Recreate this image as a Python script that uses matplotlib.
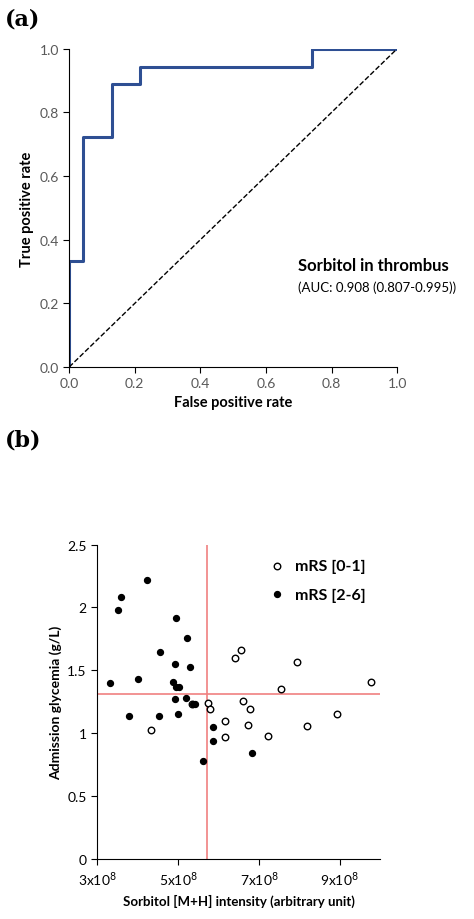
import matplotlib
matplotlib.use("Agg")
import matplotlib.pyplot as plt
import numpy as np

plt.rcParams['font.family'] = ['Lato', 'DejaVu Sans']

# ROC
roc_fpr = [0.0, 0.0, 0.043, 0.043, 0.13, 0.13, 0.217, 0.217, 0.739, 0.739, 1.0]
roc_tpr = [0.0, 0.333, 0.333, 0.722, 0.722, 0.889, 0.889, 0.944, 0.944, 1.0, 1.0]

# Scatter (x in units of 1e8)
low_x = [6.55, 6.42, 7.94, 9.77, 7.54, 6.61, 6.77, 5.75, 5.79, 5.35, 6.15, 6.73, 8.94, 8.19, 4.34, 6.15, 7.23]
low_y = [1.66, 1.60, 1.57, 1.41, 1.35, 1.26, 1.19, 1.24, 1.19, 1.23, 1.10, 1.07, 1.15, 1.06, 1.03, 0.97, 0.98]
high_x = [4.23, 3.58, 3.52, 4.95, 5.23, 4.56, 4.92, 5.30, 3.31, 4.00, 4.88, 4.96, 5.02, 4.93, 5.19,
          5.37, 5.43, 3.78, 4.53, 4.99, 5.87, 5.86, 6.82, 5.63]
high_y = [2.22, 2.08, 1.98, 1.92, 1.76, 1.65, 1.55, 1.53, 1.40, 1.43, 1.41, 1.37, 1.37, 1.27, 1.28,
          1.23, 1.23, 1.14, 1.14, 1.15, 1.05, 0.94, 0.84, 0.78]
cut_x = 5.71
cut_y = 1.31

fig = plt.figure(figsize=(4.74, 9.20), dpi=100)

ax1 = fig.add_axes([0.146, 0.600, 0.692, 0.346])
ax1.step(roc_fpr, roc_tpr, where='post', color='#2e4f93', lw=2.2)
ax1.plot([0, 1], [0, 1], ls='--', color='black', lw=1)
ax1.set_xlim(0, 1); ax1.set_ylim(0, 1)
ax1.set_xticks(np.arange(0, 1.01, 0.2)); ax1.set_yticks(np.arange(0, 1.01, 0.2))
ax1.xaxis.set_major_formatter(matplotlib.ticker.FormatStrFormatter('%.1f'))
ax1.yaxis.set_major_formatter(matplotlib.ticker.FormatStrFormatter('%.1f'))
ax1.tick_params(labelsize=10, labelcolor='#595959', length=4)
for s in ['top', 'right']:
    ax1.spines[s].set_visible(False)
ax1.set_xlabel('False positive rate', fontsize=10.5, fontweight='bold')
ax1.set_ylabel('True positive rate', fontsize=10.5, fontweight='bold')
ax1.text(0.697, 0.305, 'Sorbitol in thrombus', fontsize=12, fontweight='bold', transform=ax1.transAxes)
ax1.text(0.697, 0.24, '(AUC: 0.908 (0.807-0.995))', fontsize=9.5, transform=ax1.transAxes)
fig.text(0.01, 0.972, '(a)', fontsize=16, fontweight='bold', family='DejaVu Serif')

ax2 = fig.add_axes([0.205, 0.065, 0.597, 0.342])
ax2.axvline(cut_x, color='#f08080', lw=1.2)
ax2.axhline(cut_y, color='#f08080', lw=1.2)
ax2.scatter(low_x, low_y, s=22, facecolors='white', edgecolors='black', lw=1, label='mRS [0-1]', zorder=3)
ax2.scatter(high_x, high_y, s=18, color='black', label='mRS [2-6]', zorder=3)
ax2.set_xlim(3, 10); ax2.set_ylim(0, 2.5)
ax2.set_xticks([3, 5, 7, 9])
ax2.set_xticklabels([r'3x10$^8$', r'5x10$^8$', r'7x10$^8$', r'9x10$^8$'])
ax2.set_yticks([0, 0.5, 1, 1.5, 2, 2.5])
ax2.set_yticklabels(['0', '0.5', '1', '1.5', '2', '2.5'])
ax2.tick_params(labelsize=10, length=4)
for s in ['top', 'right']:
    ax2.spines[s].set_visible(False)
ax2.set_xlabel('Sorbitol [M+H] intensity (arbitrary unit)', fontsize=9.5, fontweight='bold')
ax2.set_ylabel('Admission glycemia (g/L)', fontsize=10, fontweight='bold')
leg = ax2.legend(loc='upper right', frameon=False, fontsize=11.5, handletextpad=0.1,
                 bbox_to_anchor=(1.0, 1.0), labelspacing=0.9)
for t in leg.get_texts():
    t.set_fontweight('bold')
fig.text(0.01, 0.515, '(b)', fontsize=16, fontweight='bold', family='DejaVu Serif')

fig.savefig('out.png', dpi=100, facecolor='white')
